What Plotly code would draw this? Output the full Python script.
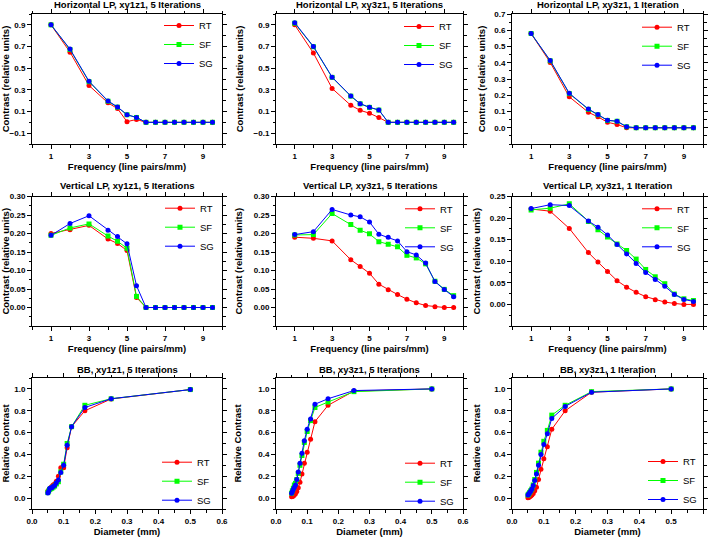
import plotly.graph_objects as go
from plotly.subplots import make_subplots

# ---------------- data ----------------
freq = [1, 2, 3, 4, 4.5, 5, 5.5, 6, 6.5, 7, 7.5, 8, 8.5, 9, 9.5]
diam = [0.05, 0.0526, 0.0556, 0.0588, 0.0625, 0.0667, 0.0714, 0.0769,
        0.0833, 0.0909, 0.1, 0.111, 0.125, 0.167, 0.25, 0.5]

h1_rt = [0.90, 0.648, 0.34, 0.18, 0.127, 0.006, 0.027, 0, 0, 0, 0, 0, 0, 0, 0]
h1_sf = [0.90, 0.672, 0.375, 0.195, 0.14, 0.07, 0.045, 0, 0, 0, 0, 0, 0, 0, 0]
h1_sg = [0.90, 0.676, 0.379, 0.197, 0.142, 0.07, 0.045, 0, 0, 0, 0, 0, 0, 0, 0]

h2_rt = [0.90, 0.64, 0.313, 0.157, 0.111, 0.084, 0.044, 0, 0, 0, 0, 0, 0, 0, 0]
h2_sf = [0.915, 0.698, 0.415, 0.242, 0.171, 0.138, 0.113, 0, 0, 0, 0, 0, 0, 0, 0]
h2_sg = [0.92, 0.70, 0.417, 0.243, 0.172, 0.139, 0.114, 0, 0, 0, 0, 0, 0, 0, 0]

h3_rt = [0.58, 0.402, 0.19, 0.095, 0.067, 0.034, 0.02, 0, 0, 0, 0, 0, 0, 0, 0]
h3_sf = [0.58, 0.412, 0.21, 0.113, 0.08, 0.045, 0.04, 0.006, 0, 0, 0, 0, 0, 0, 0]
h3_sg = [0.58, 0.414, 0.212, 0.115, 0.081, 0.046, 0.04, 0.006, 0, 0, 0, 0, 0, 0, 0]

v1_rt = [0.20, 0.21, 0.222, 0.185, 0.173, 0.154, 0.027, 0, 0, 0, 0, 0, 0, 0, 0]
v1_sf = [0.195, 0.215, 0.226, 0.193, 0.179, 0.160, 0.03, 0, 0, 0, 0, 0, 0, 0, 0]
v1_sg = [0.195, 0.227, 0.248, 0.209, 0.192, 0.172, 0.059, 0, 0, 0, 0, 0, 0, 0, 0]

v2_rt = [0.19, 0.187, 0.18, 0.129, 0.111, 0.0925, 0.063, 0.048, 0.035, 0.0225,
         0.0126, 0.0054, 0.002, 0.0, 0.0]
v2_sf = [0.196, 0.197, 0.254, 0.224, 0.209, 0.199, 0.178, 0.171, 0.164, 0.141,
         0.134, 0.118, 0.071, 0.049, 0.032]
v2_sg = [0.197, 0.205, 0.265, 0.25, 0.245, 0.231, 0.198, 0.19, 0.18, 0.151,
         0.142, 0.12, 0.07, 0.0485, 0.029]

v3_rt = [0.221, 0.216, 0.176, 0.12, 0.098, 0.076, 0.055, 0.040, 0.028, 0.018,
         0.011, 0.0054, 0.0023, 0.0, 0.0]
v3_sf = [0.219, 0.223, 0.233, 0.192, 0.173, 0.156, 0.14, 0.125, 0.105, 0.081,
         0.064, 0.048, 0.024, 0.013, 0.009]
v3_sg = [0.222, 0.231, 0.229, 0.193, 0.179, 0.161, 0.139, 0.117, 0.095, 0.074,
         0.058, 0.042, 0.023, 0.0115, 0.007]

b1_rt = [0.065, 0.07, 0.083, 0.095, 0.105, 0.12, 0.13, 0.155, 0.20, 0.278,
         0.278, 0.462, 0.654, 0.80, 0.908, 0.994]
b1_sf = [0.05, 0.065, 0.08, 0.085, 0.09, 0.10, 0.11, 0.13, 0.15, 0.24,
         0.31, 0.50, 0.654, 0.85, 0.91, 0.994]
b1_sg = [0.046, 0.06, 0.087, 0.092, 0.095, 0.105, 0.115, 0.14, 0.165, 0.235,
         0.30, 0.483, 0.654, 0.83, 0.91, 0.994]

b2_rt = [0.012, 0.015, 0.02, 0.028, 0.04, 0.06, 0.095, 0.145, 0.22, 0.32,
         0.42, 0.54, 0.70, 0.85, 0.98, 1.0]
b2_sf = [0.045, 0.067, 0.09, 0.12, 0.135, 0.17, 0.226, 0.30, 0.39, 0.51,
         0.61, 0.71, 0.83, 0.88, 0.975, 1.0]
b2_sg = [0.045, 0.06, 0.08, 0.10, 0.12, 0.17, 0.24, 0.32, 0.41, 0.525,
         0.63, 0.725, 0.86, 0.91, 0.985, 1.0]

b3_rt = [0.003, 0.006, 0.012, 0.018, 0.028, 0.043, 0.067, 0.10, 0.17, 0.265,
         0.36, 0.47, 0.63, 0.80, 0.97, 1.0]
b3_sf = [0.028, 0.037, 0.052, 0.067, 0.083, 0.12, 0.17, 0.235, 0.32, 0.42,
         0.52, 0.62, 0.76, 0.85, 0.975, 1.0]
b3_sg = [0.028, 0.037, 0.05, 0.064, 0.083, 0.115, 0.16, 0.22, 0.30, 0.40,
         0.49, 0.59, 0.73, 0.84, 0.97, 1.0]

titles = ["Horizontal LP, xy1z1, 5 Iterations", "Horizontal LP, xy3z1, 5 Iterations",
          "Horizontal LP, xy3z1, 1 Iteration",
          "Vertical LP, xy1z1, 5 Iterations", "Vertical LP, xy3z1, 5 Iterations",
          "Vertical LP, xy3z1, 1 Iteration",
          "BB, xy1z1, 5 Iterations", "BB, xy3z1, 5 Iterations", "BB, xy3z1, 1 Iteration"]
series_names = ["RT", "SF", "SG"]

panels = [
    (freq, [h1_rt, h1_sf, h1_sg]), (freq, [h2_rt, h2_sf, h2_sg]), (freq, [h3_rt, h3_sf, h3_sg]),
    (freq, [v1_rt, v1_sf, v1_sg]), (freq, [v2_rt, v2_sf, v2_sg]), (freq, [v3_rt, v3_sf, v3_sg]),
    (diam, [b1_rt, b1_sf, b1_sg]), (diam, [b2_rt, b2_sf, b2_sg]), (diam, [b3_rt, b3_sf, b3_sg]),
]

# ---------------- style / layout ----------------
W, H = 709, 538
FONT = "Arial, Liberation Sans, sans-serif"
colors = ["#FF0000", "#00FF00", "#0000FF"]
symbols = ["circle", "square", "circle"]

col_px = [(32, 222), (276, 463), (512, 703)]
row_px = [(14, 144), (196.5, 326), (378, 509)]
ytitle_standoff = [[4, 8, 6], [5, 9, 7], [7, 14, 11]]

def px_x(x):
    return x / W

def px_y(y):
    return 1 - y / H

fig = make_subplots(rows=3, cols=3)

legend_text_x = [199, 439, 677, 200, 440, 677, 197, 440, 683]
legend_first_y = [25, 26, 26.7, 207.7, 208.3, 208.3, 500.7, 501.7, 500]

for i, (xs, ys_list) in enumerate(panels):
    r, c = i // 3 + 1, i % 3 + 1
    lname = "legend" if i == 0 else f"legend{i + 1}"
    for k, ys in enumerate(ys_list):
        fig.add_trace(go.Scatter(
            x=xs, y=ys, name=series_names[k], mode="lines+markers",
            line=dict(color=colors[k], width=1),
            marker=dict(color=colors[k], symbol=symbols[k], size=5),
            legend=lname, showlegend=True,
        ), row=r, col=c)

    x0, x1 = col_px[c - 1]
    y0, y1 = row_px[r - 1]
    fig.update_xaxes(domain=[px_x(x0), px_x(x1)], row=r, col=c)
    fig.update_yaxes(domain=[px_y(y1), px_y(y0)], row=r, col=c)

    # title annotation
    fig.add_annotation(text=f"<b>{titles[i]}</b>", xref="paper", yref="paper",
                       x=px_x((x0 + x1) / 2), y=px_y([4.5, 185.5, 369][r - 1]),
                       xanchor="center", yanchor="middle", showarrow=False,
                       font=dict(family=FONT, size=9.5, color="black"))

    leg = dict(x=px_x(legend_text_x[i] - 40), xanchor="left",
               bgcolor="rgba(0,0,0,0)", borderwidth=0,
               font=dict(family=FONT, size=9.5, color="black"),
               itemwidth=30, tracegroupgap=0)
    if r < 3:
        leg.update(y=px_y(legend_first_y[i] - 14), yanchor="top")
    else:
        leg.update(y=px_y(legend_first_y[i] + 14), yanchor="bottom")
    fig.update_layout({lname: leg})

axis_common = dict(showline=True, linecolor="black", linewidth=1, mirror="ticks",
                   ticks="outside", ticklen=4, tickwidth=1, tickcolor="black",
                   showgrid=False, zeroline=False, automargin=False,
                   tickfont=dict(family=FONT, size=8, color="black", weight="bold"))
title_font = dict(family=FONT, size=9.5, color="black", weight="bold")

for r in (1, 2, 3):
    for c in (1, 2, 3):
        so = ytitle_standoff[r - 1][c - 1]
        fig.update_xaxes(axis_common, row=r, col=c)
        fig.update_yaxes(axis_common, row=r, col=c)
        if r < 3:
            fig.update_xaxes(range=[0, 10], tickmode="linear", tick0=1, dtick=2,
                             minor=dict(ticks="outside", ticklen=2.5, tick0=0, dtick=1,
                                        tickcolor="black"),
                             title=dict(text="Frequency (line pairs/mm)", font=title_font,
                                        standoff=3),
                             row=r, col=c)
            fig.update_yaxes(title=dict(text="Contrast (relative units)", font=title_font,
                                        standoff=so), row=r, col=c)
        else:
            fig.update_xaxes(range=[0, 0.6], tickmode="linear", tick0=0, dtick=0.1,
                             tickformat=".1f",
                             minor=dict(ticks="outside", ticklen=2.5, tick0=0, dtick=0.05,
                                        tickcolor="black"),
                             title=dict(text="Diameter (mm)", font=title_font, standoff=3),
                             row=r, col=c)
            fig.update_yaxes(range=[-0.1, 1.1], tickmode="array",
                             tickvals=[0, 0.2, 0.4, 0.6, 0.8, 1.0], tickformat=".1f",
                             minor=dict(ticks="outside", ticklen=2.5, tick0=0, dtick=0.1,
                                        tickcolor="black"),
                             title=dict(text="Relative Contrast", font=title_font, standoff=so),
                             row=r, col=c)

# y axes for frequency panels
for c in (1, 2):
    fig.update_yaxes(range=[-0.2, 1.0], tickmode="linear", tick0=-0.1, dtick=0.2,
                     tickformat=".1f",
                     minor=dict(ticks="outside", ticklen=2.5, tick0=0, dtick=0.1,
                                tickcolor="black"), row=1, col=c)
fig.update_yaxes(range=[-0.1, 0.7], tickmode="array",
                 tickvals=[0, 0.1, 0.2, 0.3, 0.4, 0.5, 0.6, 0.7], tickformat=".1f",
                 minor=dict(ticks="outside", ticklen=2.5, tick0=0, dtick=0.05,
                            tickcolor="black"), row=1, col=3)
for c, top in ((1, 0.30), (2, 0.30), (3, 0.25)):
    vals = [round(0.05 * k, 2) for k in range(int(round(top / 0.05)) + 1)]
    fig.update_yaxes(range=[-0.05, top], tickmode="array", tickvals=vals, tickformat=".2f",
                     minor=dict(ticks="outside", ticklen=2.5, tick0=0, dtick=0.025,
                                tickcolor="black"), row=2, col=c)

fig.update_layout(template="none", width=W, height=H,
                  margin=dict(l=0, r=0, t=0, b=0, autoexpand=False),
                  paper_bgcolor="white", plot_bgcolor="white",
                  font=dict(family=FONT, color="black"))

fig.write_html("out.html", config={"displayModeBar": False},
               post_script="document.body.style.margin='0';document.body.style.padding='0';")
